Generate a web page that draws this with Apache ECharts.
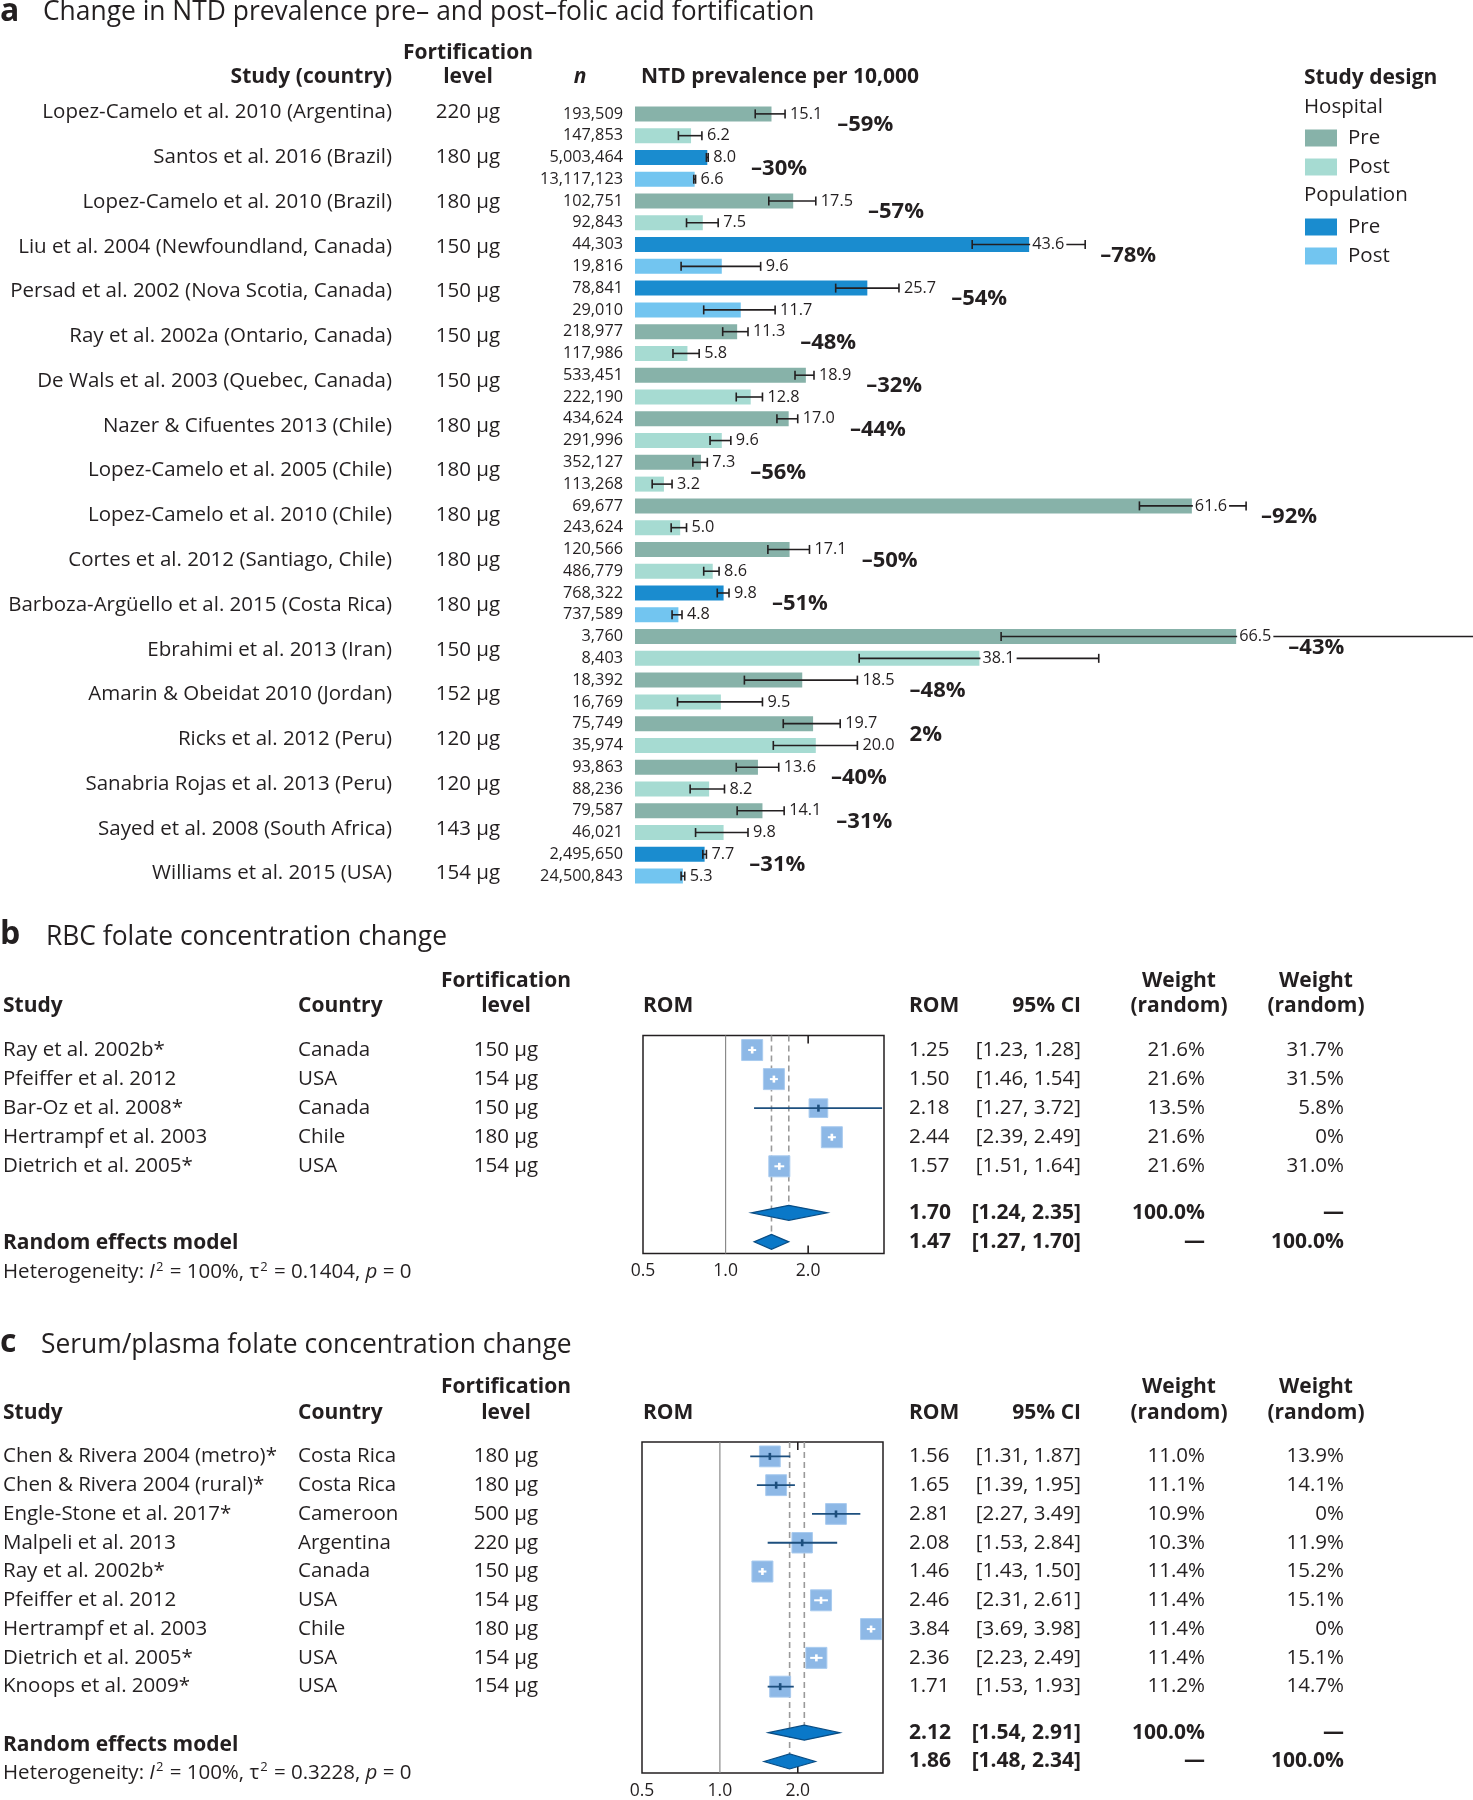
<!DOCTYPE html>
<html>
<head>
<meta charset="utf-8">
<script src="https://cdn.jsdelivr.net/npm/echarts@6.0.0/dist/echarts.min.js"></script>
<style>
html, body { margin: 0; padding: 0; background: #fff; }
#chart { width: 1473px; height: 1800px; }
</style>
</head>
<body>
<div id="chart"></div>
<script>
const FONT = 'Open Sans';
const INK = '#231f20';

// ---------- a: NTD prevalence per 10,000 ----------
const ntdStudy = ['Lopez-Camelo et al. 2010 (Argentina)', 'Santos et al. 2016 (Brazil)', 'Lopez-Camelo et al. 2010 (Brazil)',
  'Liu et al. 2004 (Newfoundland, Canada)', 'Persad et al. 2002 (Nova Scotia, Canada)', 'Ray et al. 2002a (Ontario, Canada)',
  'De Wals et al. 2003 (Quebec, Canada)', 'Nazer & Cifuentes 2013 (Chile)', 'Lopez-Camelo et al. 2005 (Chile)',
  'Lopez-Camelo et al. 2010 (Chile)', 'Cortes et al. 2012 (Santiago, Chile)', 'Barboza-Argüello et al. 2015 (Costa Rica)',
  'Ebrahimi et al. 2013 (Iran)', 'Amarin & Obeidat 2010 (Jordan)', 'Ricks et al. 2012 (Peru)',
  'Sanabria Rojas et al. 2013 (Peru)', 'Sayed et al. 2008 (South Africa)', 'Williams et al. 2015 (USA)'];
const ntdLevel = ['220 µg', '180 µg', '180 µg', '150 µg', '150 µg', '150 µg', '150 µg', '180 µg', '180 µg',
  '180 µg', '180 µg', '180 µg', '150 µg', '152 µg', '120 µg', '120 µg', '143 µg', '154 µg'];
const ntdDesign = ['Hospital', 'Population', 'Hospital', 'Population', 'Population', 'Hospital', 'Hospital', 'Hospital', 'Hospital',
  'Hospital', 'Hospital', 'Population', 'Hospital', 'Hospital', 'Hospital', 'Hospital', 'Hospital', 'Population'];
const ntdNPre = ['193,509', '5,003,464', '102,751', '44,303', '78,841', '218,977', '533,451', '434,624', '352,127',
  '69,677', '120,566', '768,322', '3,760', '18,392', '75,749', '93,863', '79,587', '2,495,650'];
const ntdNPost = ['147,853', '13,117,123', '92,843', '19,816', '29,010', '117,986', '222,190', '291,996', '113,268',
  '243,624', '486,779', '737,589', '8,403', '16,769', '35,974', '88,236', '46,021', '24,500,843'];
const ntdPre = [15.1, 8.0, 17.5, 43.6, 25.7, 11.3, 18.9, 17.0, 7.3, 61.6, 17.1, 9.8, 66.5, 18.5, 19.7, 13.6, 14.1, 7.7];
const ntdPreLo = [13.3, 7.9, 14.8, 37.3, 22.2, 9.7, 17.7, 15.7, 6.4, 55.8, 14.7, 9.1, 40.5, 12.1, 16.4, 11.2, 11.3, 7.5];
const ntdPreHi = [16.6, 8.1, 20.0, 49.8, 29.2, 12.5, 19.8, 18.0, 8.0, 67.6, 19.3, 10.4, 98.0, 24.6, 22.7, 15.9, 16.5, 7.9];
const ntdPost = [6.2, 6.6, 7.5, 9.6, 11.7, 5.8, 12.8, 9.6, 3.2, 5.0, 8.6, 4.8, 38.1, 9.5, 20.0, 8.2, 9.8, 5.3];
const ntdPostLo = [4.8, 6.5, 5.7, 5.1, 7.6, 4.2, 11.2, 8.3, 1.9, 4.0, 7.6, 4.1, 24.8, 4.7, 15.3, 6.1, 6.7, 5.1];
const ntdPostHi = [7.4, 6.7, 9.2, 13.9, 15.5, 7.1, 14.1, 10.6, 4.1, 5.7, 9.3, 5.2, 51.3, 14.1, 24.6, 9.9, 12.5, 5.5];
const ntdPct = [-59, -30, -57, -78, -54, -48, -32, -44, -56, -92, -50, -51, -43, -48, 2, -40, -31, -31];

// ---------- b: RBC folate ----------
const rbcStudy = ['Ray et al. 2002b*', 'Pfeiffer et al. 2012', 'Bar-Oz et al. 2008*', 'Hertrampf et al. 2003', 'Dietrich et al. 2005*'];
const rbcCountry = ['Canada', 'USA', 'Canada', 'Chile', 'USA'];
const rbcLevel = ['150 µg', '154 µg', '150 µg', '180 µg', '154 µg'];
const rbcRom = [1.25, 1.50, 2.18, 2.44, 1.57];
const rbcLo = [1.23, 1.46, 1.27, 2.39, 1.51];
const rbcHi = [1.28, 1.54, 3.72, 2.49, 1.64];
const rbcW1 = [21.6, 21.6, 13.5, 21.6, 21.6];
const rbcW2 = [31.7, 31.5, 5.8, 0, 31.0];
const rbcCommon = [1.70, 1.24, 2.35];
const rbcRandom = [1.47, 1.27, 1.70];

// ---------- c: serum/plasma folate ----------
const serStudy = ['Chen & Rivera 2004 (metro)*', 'Chen & Rivera 2004 (rural)*', 'Engle-Stone et al. 2017*', 'Malpeli et al. 2013',
  'Ray et al. 2002b*', 'Pfeiffer et al. 2012', 'Hertrampf et al. 2003', 'Dietrich et al. 2005*', 'Knoops et al. 2009*'];
const serCountry = ['Costa Rica', 'Costa Rica', 'Cameroon', 'Argentina', 'Canada', 'USA', 'Chile', 'USA', 'USA'];
const serLevel = ['180 µg', '180 µg', '500 µg', '220 µg', '150 µg', '154 µg', '180 µg', '154 µg', '154 µg'];
const serRom = [1.56, 1.65, 2.81, 2.08, 1.46, 2.46, 3.84, 2.36, 1.71];
const serLo = [1.31, 1.39, 2.27, 1.53, 1.43, 2.31, 3.69, 2.23, 1.53];
const serHi = [1.87, 1.95, 3.49, 2.84, 1.50, 2.61, 3.98, 2.49, 1.93];
const serW1 = [11.0, 11.1, 10.9, 10.3, 11.4, 11.4, 11.4, 11.4, 11.2];
const serW2 = [13.9, 14.1, 0, 11.9, 15.2, 15.1, 0, 15.1, 14.7];
const serCommon = [2.12, 1.54, 2.91];
const serRandom = [1.86, 1.48, 2.34];

const ROM_TICKS = [0.5, 1, 2];

// 颜色
const colors = {
  'Hospital Pre': '#87b2a9', 'Hospital Post': '#a6dbd2',
  'Population Pre': '#1a8ccf', 'Population Post': '#72c5f0'
};

const ctx = document.createElement('canvas').getContext('2d');
function textW(txt, font) { ctx.font = font; return ctx.measureText(txt).width; }
const fmtW = w => (w === 0 ? '0%' : w.toFixed(1) + '%');
const fmtCI = (lo, hi) => '[' + lo.toFixed(2) + ', ' + hi.toFixed(2) + ']';

const ROW = 20.5, SMALL = 16.3;
const rowFont = ROW + 'px ' + FONT;
const boldFont = 'bold 21px ' + FONT;
const valFont = SMALL + 'px ' + FONT;
const pctFont = 'bold 22px ' + FONT;
const VAL_GAP = 5;
const NTD_MAX = 92.7;

// 36 bar rows: pre/post per study
const barRows = [];
ntdStudy.forEach((s, i) => {
  barRows.push({ v: ntdPre[i], lo: ntdPreLo[i], hi: ntdPreHi[i], n: ntdNPre[i], key: ntdDesign[i] + ' Pre' });
  barRows.push({ v: ntdPost[i], lo: ntdPostLo[i], hi: ntdPostHi[i], n: ntdNPost[i], key: ntdDesign[i] + ' Post' });
});
const barSeries = Object.keys(colors).map(key => ({
  name: key,
  type: 'bar',
  stack: 'ntd',
  xAxisIndex: 0, yAxisIndex: 0,
  barWidth: 15,
  itemStyle: { color: colors[key] },
  data: barRows.map(r => (r.key === key ? r.v : '-')),
  z: 2
}));

function errItem(params, api) {
  const v = api.value(0), row = api.value(1), lo = api.value(2), hi = api.value(3);
  const y = api.coord([0, row])[1];
  const xL = api.coord([lo, row])[0], xH = api.coord([hi, row])[0], xV = api.coord([v, row])[0];
  const ls = { stroke: INK, lineWidth: 1.6 };
  const atBar = v > 30;
  return {
    type: 'group',
    children: [
      { type: 'line', shape: { x1: xL, y1: y, x2: xH, y2: y }, style: ls },
      { type: 'line', shape: { x1: xL, y1: y - 4.5, x2: xL, y2: y + 4.5 }, style: ls },
      { type: 'line', shape: { x1: xH, y1: y - 4.5, x2: xH, y2: y + 4.5 }, style: ls },
      {
        type: 'text', x: atBar ? xV + 1 : xH + VAL_GAP, y: y,
        style: {
          text: v.toFixed(1), font: valFont, fill: INK, align: 'left', verticalAlign: 'middle',
          backgroundColor: atBar ? '#fff' : 'transparent', padding: atBar ? [0, 2, 0, 2] : 0
        }
      }
    ]
  };
}

// right end of a bar's value label (and its cap when the cap is on the page)
function labelEnd(api, r, row) {
  const xV = api.coord([r.v, row])[0];
  const xH = r.hi <= NTD_MAX ? api.coord([r.hi, row])[0] : 0;
  const w = textW(r.v.toFixed(1), valFont);
  return r.v > 30 ? Math.max(xV + 5 + w, xH) : xH + VAL_GAP + w;
}

function pctItem(params, api) {
  const i = params.dataIndex;
  const a = barRows[2 * i], b = barRows[2 * i + 1];
  const y = (api.coord([0, 2 * i])[1] + api.coord([0, 2 * i + 1])[1]) / 2;
  const x = Math.max(labelEnd(api, a, 2 * i), labelEnd(api, b, 2 * i + 1)) + 15;
  const p = ntdPct[i];
  return {
    type: 'text', x: x, y: y,
    style: { text: (p < 0 ? '–' : '') + Math.abs(p) + '%', font: pctFont, fill: INK, align: 'left', verticalAlign: 'middle' }
  };
}

// ---------- forest plots ----------
const COL = { study: 3, country: 298, level: 506, rom: 909, ci: 1081, w1: 1205, w2: 1344 };

function txt(x, y, s, align, font) {
  return { type: 'text', x: x, y: y, style: { text: s, font: font || rowFont, fill: INK, align: align || 'left', verticalAlign: 'middle' } };
}

function forestSeries(p, gi) {
  const n = p.study.length;
  const wmax = Math.max(...p.w1);
  const sumRows = [n + 0.6, n + 1.6];
  const studies = {
    type: 'custom', xAxisIndex: gi, yAxisIndex: gi, z: 5,
    data: p.rom.map((r, i) => [r, i, p.lo[i], p.hi[i], p.w1[i]]),
    renderItem: (params, api) => {
      const i = params.dataIndex;
      const [xE, y] = api.coord([api.value(0), api.value(1)]);
      const xL = api.coord([api.value(2), 0])[0], xH = api.coord([api.value(3), 0])[0];
      const s = 21 * Math.pow(api.value(4) / wmax, 0.25);
      const inner = (xE - xL) < s / 2 && (xH - xE) < s / 2;
      const c = inner ? '#ffffff' : '#1d4f7e';
      const half = inner ? Math.max((xH - xL) / 2, 4) : 0;
      const ch = [
        { type: 'rect', shape: { x: xE - s / 2, y: y - s / 2, width: s, height: s }, style: { fill: '#8db8e6', stroke: '#a9cbef', lineWidth: 1 } },
        inner
          ? { type: 'line', shape: { x1: xE - half, y1: y, x2: xE + half, y2: y }, style: { stroke: c, lineWidth: 2 } }
          : { type: 'line', shape: { x1: xL, y1: y, x2: xH, y2: y }, style: { stroke: c, lineWidth: 1.8 } },
        { type: 'rect', shape: { x: xE - 1.3, y: y - 3.5, width: 2.6, height: 7 }, style: { fill: c } },
        txt(COL.study, y, p.study[i]),
        txt(COL.country, y, p.country[i]),
        txt(COL.level, y, p.level[i], 'center'),
        txt(COL.rom, y, p.rom[i].toFixed(2)),
        txt(COL.ci, y, fmtCI(p.lo[i], p.hi[i]), 'right'),
        txt(COL.w1, y, fmtW(p.w1[i]), 'right'),
        txt(COL.w2, y, fmtW(p.w2[i]), 'right')
      ];
      return { type: 'group', children: ch };
    }
  };
  const summary = {
    type: 'custom', xAxisIndex: gi, yAxisIndex: gi, z: 4,
    data: [[p.common[0], sumRows[0], p.common[1], p.common[2]], [p.random[0], sumRows[1], p.random[1], p.random[2]]],
    renderItem: (params, api) => {
      const k = params.dataIndex;
      const row = api.value(1);
      const [xE, y] = api.coord([api.value(0), row]);
      const xL = api.coord([api.value(2), row])[0], xH = api.coord([api.value(3), row])[0];
      const yTop = api.coord([1, -0.5])[1];
      const h = 7.5;
      return {
        type: 'group',
        children: [
          { type: 'line', shape: { x1: xE, y1: yTop, x2: xE, y2: y }, style: { stroke: '#9a9a9a', lineWidth: 1.6, lineDash: [6, 4] }, z2: 1 },
          { type: 'polygon', shape: { points: [[xL, y], [xE, y - h], [xH, y], [xE, y + h]] }, style: { fill: '#0a78c8', stroke: '#0a4d84', lineWidth: 1.2 }, z2: 3 },
          txt(COL.rom, y, api.value(0).toFixed(2), 'left', boldFont),
          txt(COL.ci, y, fmtCI(api.value(2), api.value(3)), 'right', boldFont),
          txt(COL.w1, y, k === 0 ? '100.0%' : '—', 'right', boldFont),
          txt(COL.w2, y, k === 0 ? '—' : '100.0%', 'right', boldFont)
        ]
      };
    }
  };
  // null line at ROM = 1 and inner ticks at 2.0
  const frame = {
    type: 'custom', xAxisIndex: gi, yAxisIndex: gi, z: 3,
    data: [[1], [2]],
    renderItem: (params, api) => {
      const v = api.value(0);
      const a = api.coord([v, -0.5]), b = api.coord([v, n + 2]);
      if (v === 1) {
        return { type: 'line', shape: { x1: a[0], y1: a[1], x2: b[0], y2: b[1] }, style: { stroke: '#8a8a8a', lineWidth: 1.2 } };
      }
      const ts = { stroke: INK, lineWidth: 1.6 };
      return {
        type: 'group', children: [
          { type: 'line', shape: { x1: a[0], y1: a[1], x2: a[0], y2: a[1] + 8 }, style: ts },
          { type: 'line', shape: { x1: b[0], y1: b[1], x2: b[0], y2: b[1] - 8 }, style: ts }
        ]
      };
    }
  };
  return [frame, summary, studies];
}

const rbc = { study: rbcStudy, country: rbcCountry, level: rbcLevel, rom: rbcRom, lo: rbcLo, hi: rbcHi, w1: rbcW1, w2: rbcW2, common: rbcCommon, random: rbcRandom };
const ser = { study: serStudy, country: serCountry, level: serLevel, rom: serRom, lo: serLo, hi: serHi, w1: serW1, w2: serW2, common: serCommon, random: serRandom };

function romAxis(gi, max) {
  return {
    type: 'log', logBase: 2, min: 0.5, max: max, gridIndex: gi, position: 'bottom',
    axisLine: { show: false },
    splitLine: { show: false },
    axisTick: { show: false },
    axisLabel: {
      customValues: ROM_TICKS, margin: 9,
      formatter: v => Number(v).toFixed(1), fontFamily: FONT, fontSize: 17.5, color: INK
    }
  };
}

function hiddenCat(gi, data, extra) {
  return Object.assign({
    type: 'category', gridIndex: gi, data: data, inverse: true, position: 'left',
    axisLine: { show: false }, axisTick: { show: false }, splitLine: { show: false },
    axisLabel: { show: false }
  }, extra || {});
}

const chart = echarts.init(document.getElementById('chart'));

const heading = (x, y, s, font, align) => ({
  type: 'text', x: x, y: y,
  style: { text: s, font: font, fill: INK, align: align || 'left', verticalAlign: 'middle' }
});
const H1 = 'bold 32px ' + FONT, H2 = '26.4px ' + FONT, HB = 'bold 21px ' + FONT;

function forestHeads(y1, y2) {
  return [
    heading(COL.study, y2, 'Study', HB),
    heading(COL.country, y2, 'Country', HB),
    heading(COL.level, y1, 'Fortification', HB, 'center'),
    heading(COL.level, y2, 'level', HB, 'center'),
    heading(643, y2, 'ROM', HB),
    heading(COL.rom, y2, 'ROM', HB),
    heading(COL.ci, y2, '95% CI', HB, 'right'),
    heading(1179, y1, 'Weight', HB, 'center'),
    heading(1179, y2, '(random)', HB, 'center'),
    heading(1316, y1, 'Weight', HB, 'center'),
    heading(1316, y2, '(random)', HB, 'center')
  ];
}

function hetText(y, i2, tau) {
  return {
    type: 'text', x: COL.study, y: y,
    style: {
      text: '{n|Heterogeneity: }{i|I}{s|2}{n| = ' + i2 + ', τ}{s|2}{n| = ' + tau + ', }{i|p}{n| = 0}',
      verticalAlign: 'middle', align: 'left',
      rich: {
        n: { font: rowFont, fill: INK, lineHeight: 24 },
        i: { font: 'italic ' + rowFont, fill: INK, lineHeight: 24 },
        s: { font: '13px ' + FONT, fill: INK, lineHeight: 24, verticalAlign: 'top', padding: [0, 1, 0, 1] }
      }
    }
  };
}

// level column is right-aligned so that each "xxx µg" is centred on x = 468
const levelMargin = 635 - 468 - textW('220 µg', rowFont) / 2;

const legendBase = {
  orient: 'vertical', left: 1305, padding: 0,
  itemWidth: 32, itemHeight: 17, itemGap: 8, icon: 'rect', selectedMode: false,
  formatter: name => name.split(' ')[1],
  textStyle: { fontFamily: FONT, fontSize: ROW, color: INK, padding: [0, 0, 0, 6] }
};

chart.setOption({
  animation: false,
  backgroundColor: '#fff',
  textStyle: { fontFamily: FONT },
  grid: [
    { left: 635, top: 103, width: 838, height: 784 },
    { left: 643, top: 1035.5, width: 241, height: 218, show: true, borderColor: INK, borderWidth: 1.5, backgroundColor: 'transparent' },
    { left: 642, top: 1442, width: 241, height: 334, show: true, borderColor: INK, borderWidth: 1.5, backgroundColor: 'transparent' },
    { left: 635, top: 90, width: 1, height: 806 }
  ],
  xAxis: [
    { type: 'value', gridIndex: 0, min: 0, max: NTD_MAX, show: false },
    romAxis(1, 3.78),
    romAxis(2, 4.27),
    { type: 'value', gridIndex: 3, show: false }
  ],
  yAxis: [
    hiddenCat(0, barRows.map(r => r.n), { axisLabel: { show: true, interval: 0, margin: 12, fontFamily: FONT, fontSize: SMALL, color: INK } }),
    { type: 'value', gridIndex: 1, inverse: true, min: -0.5, max: rbcStudy.length + 2, show: false },
    { type: 'value', gridIndex: 2, inverse: true, min: -0.5, max: serStudy.length + 2, show: false },
    hiddenCat(3, ntdStudy, { axisLabel: { show: true, interval: 0, margin: 243, fontFamily: FONT, fontSize: ROW, color: INK } }),
    hiddenCat(3, ntdLevel, { axisLabel: { show: true, interval: 0, margin: levelMargin, fontFamily: FONT, fontSize: ROW, color: INK } })
  ],
  legend: [
    Object.assign({ data: ['Hospital Pre', 'Hospital Post'], top: 127.5 }, legendBase),
    Object.assign({ data: ['Population Pre', 'Population Post'], top: 216.5 }, legendBase)
  ],
  graphic: [
    heading(0, 12, 'a', H1),
    heading(43, 12, 'Change in NTD prevalence pre– and post–folic acid fortification', H2),
    heading(468, 53.5, 'Fortification', HB, 'center'),
    heading(468, 77, 'level', HB, 'center'),
    heading(392, 77, 'Study (country)', HB, 'right'),
    heading(580, 77, 'n', 'italic bold 21px ' + FONT, 'center'),
    heading(641, 77, 'NTD prevalence per 10,000', HB),
    heading(1304, 78, 'Study design', HB),
    heading(1304, 107, 'Hospital', rowFont),
    heading(1304, 195, 'Population', rowFont),

    heading(0, 935, 'b', H1),
    heading(46, 937, 'RBC folate concentration change', H2),
    ...forestHeads(981, 1005.6),
    heading(COL.study, 1243, 'Random effects model', HB),
    hetText(1272.5, '100%', '0.1404'),

    heading(0, 1343, 'c', H1),
    heading(41, 1345, 'Serum/plasma folate concentration change', H2),
    ...forestHeads(1387, 1413),
    heading(COL.study, 1745, 'Random effects model', HB),
    hetText(1773, '100%', '0.3228')
  ],
  series: [
    ...barSeries,
    {
      type: 'custom', name: 'ci', xAxisIndex: 0, yAxisIndex: 0, z: 3,
      data: barRows.map((r, i) => [r.v, i, r.lo, r.hi]),
      renderItem: errItem
    },
    {
      type: 'custom', name: 'pct', xAxisIndex: 0, yAxisIndex: 0, z: 3,
      data: ntdPct.map((p, i) => [i, p]),
      renderItem: pctItem
    },
    ...forestSeries(rbc, 1),
    ...forestSeries(ser, 2)
  ]
});

window.addEventListener('resize', () => chart.resize());
</script>
</body>
</html>
